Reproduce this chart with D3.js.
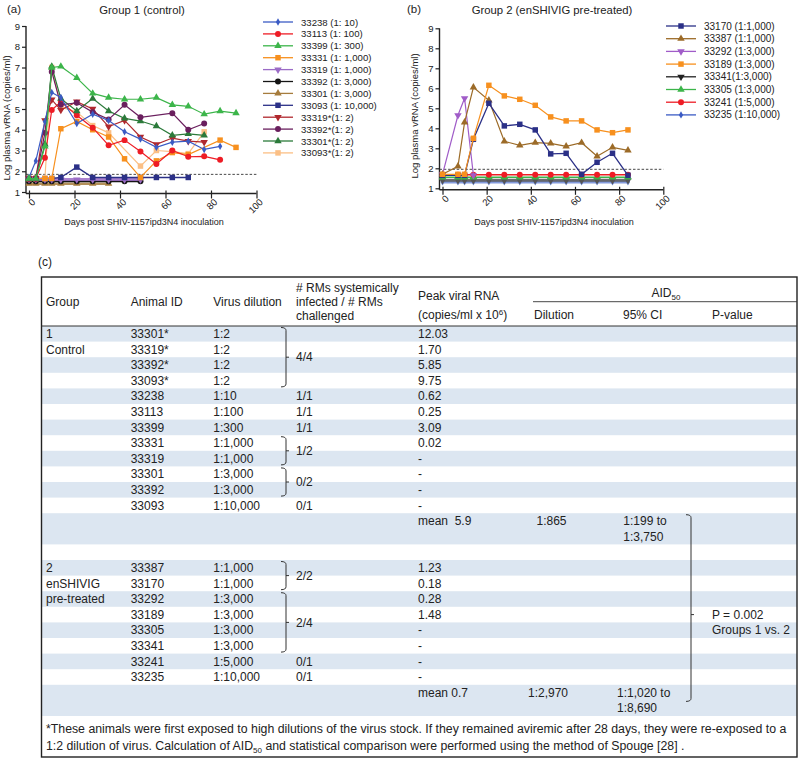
<!DOCTYPE html>
<html><head><meta charset="utf-8">
<script src="https://cdn.jsdelivr.net/npm/d3@7"></script>
<style>
body{margin:0;background:#fff}
svg{display:block}
text{font-family:"Liberation Sans",Arial,Helvetica,sans-serif;fill:#222}
</style>
</head><body>
<svg id="c" width="800" height="764"></svg>
<script>
// ---------------- DATA : panel (a) Group 1 (control) ----------------
const yTickValues = [1,2,3,4,5,6,7,8,9];
const xTickValues = [0,20,40,60,80,100];
const xAxisLabel = "Days post SHIV-1157ipd3N4 inoculation";
const yAxisLabel = "Log plasma vRNA (copies/ml)";
const limitA = 1.85, limitB = 1.95;

const labelsA = ["33238 (1: 10)","33113 (1: 100)","33399 (1: 300)","33331 (1: 1,000)","33319 (1: 1,000)","33392 (1: 3,000)","33301 (1: 3,000)","33093 (1: 10,000)","33319*(1: 2)","33392*(1: 2)","33301*(1: 2)","33093*(1: 2)"];

const dA_33238 = [0,3,7,10,14,21,28,35,42,49,56,63,70,77,84];
const vA_33238 = [1.7,2.5,4.4,5.8,5.55,4.3,4.75,4.45,3.9,3.55,3.15,3.4,3.45,3.05,3.2];
const dA_33113 = [0,3,7,10,14,21,28,35,42,49,56,63,70,77,84];
const vA_33113 = [1.65,1.65,2.65,4.95,5.35,4.7,4.1,3.25,3.5,2.95,2.35,3.0,2.7,2.72,2.55];
const dA_33399 = [0,3,7,10,14,21,28,35,42,49,56,63,70,77,84,91];
const vA_33399 = [1.65,1.65,3.2,7.0,7.05,6.5,5.75,5.55,5.47,5.47,5.55,5.2,5.13,4.75,4.9,4.8];
const dA_33331 = [0,3,7,10,14,21,28,35,42,49,56,63,70,84,91];
const vA_33331 = [1.65,1.65,1.65,1.65,4.05,4.4,4.0,3.65,2.6,1.7,2.5,2.9,2.8,3.5,3.15];
const dA_33319 = [0,3,7,10,14,21,28,35,42,49];
const vA_33319 = [1.6,1.6,1.6,1.6,1.6,1.6,1.6,1.6,1.6,1.6];
const dA_33392 = [0,3,7,10,14,21,28,35,42,49];
const vA_33392 = [1.52,1.52,1.52,1.52,1.52,1.52,1.52,1.52,1.52,1.52];
const dA_33301 = [0,3,7,10,14,21,28,35];
const vA_33301 = [1.4,1.4,1.4,1.4,1.4,1.4,1.4,1.4];
const dA_33093 = [0,3,7,10,14,21,28,35,42,49,56,63,70];
const vA_33093 = [1.65,1.65,1.65,1.65,1.7,2.2,1.7,1.7,1.7,1.7,1.7,1.7,1.7];
const dA_33319s = [0,3,7,10,14,21,28,35,42,49,56,63,70,77];
const vA_33319s = [1.65,1.65,4.45,5.45,4.95,5.35,5.0,4.15,4.45,3.65,3.3,3.6,3.45,3.4];
const dA_33392s = [0,3,7,10,14,21,28,35,42,49,63,70,77];
const vA_33392s = [1.65,1.65,3.85,6.8,5.2,5.3,4.85,4.5,5.2,4.6,4.8,4.0,4.3];
const dA_33301s = [0,3,7,10,14,21,28,35,42,49,56,63,70,77];
const vA_33301s = [1.65,1.65,3.3,7.05,5.5,4.9,5.5,4.9,4.55,4.42,4.18,3.73,3.8,3.73];
const dA_33093s = [0,3,7,10,14,21,28,35,49,56,63,70,77];
const vA_33093s = [1.65,1.65,1.65,7.0,5.1,4.85,4.2,3.85,2.25,3.0,2.95,2.85,3.9];

// ---------------- DATA : panel (b) Group 2 (enSHIVIG pre-treated) ----------------
const labelsB = ["33170 (1:1,000)","33387 (1:1,000)","33292 (1:3,000)","33189 (1:3,000)","33341(1:3,000)","33305 (1:3,000)","33241 (1:5,000)","33235 (1:10,000)"];
const dB = [0,7,10,14,21,28,35,42,49,56,63,70,77,84];
const vB_33170 = [1.65,1.65,1.65,3.45,5.25,4.12,4.2,3.92,2.72,2.75,1.7,2.3,2.75,1.65];
const vB_33387 = [1.7,2.1,4.3,6.05,5.4,3.35,3.15,3.28,3.25,3.1,3.28,2.6,3.05,2.9];
const dB_33292 = [0,7,10,14];
const vB_33292 = [1.7,4.65,5.5,1.65];
const vB_33189 = [1.7,1.7,1.7,3.5,6.15,5.62,5.45,5.15,4.57,4.37,4.37,3.92,3.78,3.92];
const vB_33341 = [1.4,1.4,1.4,1.4,1.4,1.4,1.4,1.4,1.4,1.4,1.4,1.4,1.4,1.4];
const vB_33305 = [1.55,1.55,1.55,1.55,1.55,1.55,1.55,1.55,1.55,1.55,1.55,1.55,1.55,1.55];
const vB_33241 = [1.68,1.68,1.68,1.68,1.68,1.68,1.68,1.68,1.68,1.68,1.68,1.68,1.68,1.68];
const vB_33235 = [1.32,1.32,1.32,1.32,1.32,1.32,1.32,1.32,1.32,1.32,1.32,1.32,1.32,1.32];

// ---------------- DATA : table (c) ----------------
const tblGroup   = ["1","Control","","","","","","","","","","","","","2","enSHIVIG","pre-treated","","","","","",""];
const tblAnimal  = ["33301*","33319*","33392*","33093*","33238","33113","33399","33331","33319","33301","33392","33093","","","33387","33170","33292","33189","33305","33341","33241","33235",""];
const tblVirus   = ["1:2","1:2","1:2","1:2","1:10","1:100","1:300","1:1,000","1:1,000","1:3,000","1:3,000","1:10,000","","","1:1,000","1:1,000","1:3,000","1:3,000","1:3,000","1:3,000","1:5,000","1:10,000",""];
const tblPeak    = ["12.03","1.70","5.85","9.75","0.62","0.25","3.09","0.02","-","-","-","-","mean  5.9","","1.23","0.18","0.28","1.48","-","-","-","-","mean 0.7"];
const tblLinesPerRow = [1,1,1,1,1,1,1,1,1,1,1,1,2,1,1,1,1,1,1,1,1,1,2];
// infected groups: [firstRow, lastRow, label]
const tblInfected = [[0,3,"4/4"],[4,4,"1/1"],[5,5,"1/1"],[6,6,"1/1"],[7,8,"1/2"],[9,10,"0/2"],[11,11,"0/1"],[14,15,"2/2"],[16,19,"2/4"],[20,20,"0/1"],[21,21,"0/1"]];
const tblAidRows = [12,22];
const tblAidDilution = ["1:865","1:2,970"];
const tblAidCI1 = ["1:199 to","1:1,020 to"];
const tblAidCI2 = ["1:3,750","1:8,690"];
const tblPText = ["P = 0.002","Groups 1 vs. 2"];
const footnote1 = "*These animals were first exposed to high dilutions of the virus stock. If they remained aviremic after 28 days, they were re-exposed to a";
const footnote2a = "1:2 dilution of virus. Calculation of AID";
const footnote2b = " and statistical comparison were performed using the method of Spouge [28] .";

// ---------------- DRAW ----------------
const svg = d3.select("#c");
svg.append("rect").attr("width",800).attr("height",764).attr("fill","#fff");

const triDown = { draw(ctx, size){ const h=Math.sqrt(size*4/Math.sqrt(3)); const r=h/Math.sqrt(3); ctx.moveTo(0, r); ctx.lineTo(h/2,-r/2); ctx.lineTo(-h/2,-r/2); ctx.closePath(); } };
const triUp = { draw(ctx, size){ const h=Math.sqrt(size*4/Math.sqrt(3)); const r=h/Math.sqrt(3); ctx.moveTo(0,-r); ctx.lineTo(h/2,r/2); ctx.lineTo(-h/2,r/2); ctx.closePath(); } };
const SYM = {circle:d3.symbolCircle, square:d3.symbolSquare, up:triUp, down:triDown, diamond:d3.symbolDiamond};
const SIZE = {circle:28, square:30, up:24, down:24, diamond:16};

const seriesA = [
  {d:dA_33301, v:vA_33301, c:"#a67c3d", s:"up", w:2.5},
  {d:dA_33392, v:vA_33392, c:"#151515", s:"circle", w:2},
  {d:dA_33319, v:vA_33319, c:"#9b6bc6", s:"down", w:3},
  {d:dA_33093, v:vA_33093, c:"#2b3087", s:"square", w:1.3},
  {d:dA_33093s, v:vA_33093s, c:"#fbbf85", s:"square", w:1.2},
  {d:dA_33331, v:vA_33331, c:"#f7901e", s:"square", w:1.2},
  {d:dA_33113, v:vA_33113, c:"#ee1c25", s:"circle", w:1.2},
  {d:dA_33319s, v:vA_33319s, c:"#b0282d", s:"down", w:1.2},
  {d:dA_33301s, v:vA_33301s, c:"#2b7a3a", s:"up", w:1.2},
  {d:dA_33392s, v:vA_33392s, c:"#6a1f5e", s:"circle", w:1.2},
  {d:dA_33238, v:vA_33238, c:"#3b5bc4", s:"diamond", w:1.2},
  {d:dA_33399, v:vA_33399, c:"#3cb54a", s:"up", w:1.2}
];
const legendA = [
  {c:"#3b5bc4", s:"diamond"},{c:"#ee1c25", s:"circle"},{c:"#3cb54a", s:"up"},{c:"#f7901e", s:"square"},
  {c:"#9b6bc6", s:"down"},{c:"#151515", s:"circle"},{c:"#a67c3d", s:"up"},{c:"#2b3087", s:"square"},
  {c:"#b0282d", s:"down"},{c:"#6a1f5e", s:"circle"},{c:"#2b7a3a", s:"up"},{c:"#fbbf85", s:"square"}
];
const seriesB = [
  {d:dB, v:vB_33235, c:"#6f8ad6", s:"diamond", w:3},
  {d:dB, v:vB_33341, c:"#555555", s:"down", w:3},
  {d:dB, v:vB_33305, c:"#3cb54a", s:"up", w:1.5},
  {d:dB, v:vB_33241, c:"#ee1c25", s:"circle", w:1.5},
  {d:dB_33292, v:vB_33292, c:"#a05cc8", s:"down", w:1.2},
  {d:dB, v:vB_33387, c:"#9c6b28", s:"up", w:1.2},
  {d:dB, v:vB_33170, c:"#2b3087", s:"square", w:1.3},
  {d:dB, v:vB_33189, c:"#f7901e", s:"square", w:1.2}
];
const legendB = [
  {c:"#2b3087", s:"square"},{c:"#9c6b28", s:"up"},{c:"#a05cc8", s:"down"},{c:"#f7901e", s:"square"},
  {c:"#222222", s:"down"},{c:"#3cb54a", s:"up"},{c:"#ee1c25", s:"circle"},{c:"#3b5bc4", s:"diamond"}
];

function drawPanel(opt){
  const g = svg.append("g");
  const x = d3.scaleLinear([0,100],opt.xr), y = d3.scaleLinear([1,9],opt.yr);
  const ax0 = x(0)-3, ay0 = y(1)+1.5;
  const ya = g.append("g").attr("transform",`translate(${ax0},0)`)
    .call(d3.axisLeft(y).tickValues(yTickValues).tickSize(4).tickSizeOuter(0).tickPadding(2).tickFormat(d3.format("d")));
  ya.select(".domain").remove();
  ya.selectAll("line").attr("stroke","#222").attr("stroke-width",1.2);
  ya.selectAll("text").attr("font-size","9.5px").attr("fill","#222");
  const xa = g.append("g").attr("transform",`translate(0,${ay0})`)
    .call(d3.axisBottom(x).tickValues(xTickValues).tickSize(5).tickSizeOuter(0).tickFormat(d3.format("d")));
  xa.select(".domain").remove();
  xa.selectAll("line").attr("stroke","#222").attr("stroke-width",1.2).attr("y1",-3);
  xa.selectAll("text").attr("font-size","9.5px").attr("fill","#222")
    .attr("text-anchor","end").attr("transform","rotate(-45)").attr("dx","-0.1em").attr("dy","0.45em").attr("y",7).attr("x",-1);
  g.append("line").attr("x1",ax0).attr("x2",ax0).attr("y1",y(9)).attr("y2",ay0).attr("stroke","#222").attr("stroke-width",1.4);
  g.append("line").attr("x1",ax0).attr("x2",x(100)).attr("y1",ay0).attr("y2",ay0).attr("stroke","#222").attr("stroke-width",1.4);
  g.append("line").attr("x1",ax0).attr("x2",x(100)).attr("y1",y(opt.limit)).attr("y2",y(opt.limit))
    .attr("stroke","#333").attr("stroke-width",0.9).attr("stroke-dasharray","2.5,1.8");
  const line = d3.line().x(d=>x(d[0])).y(d=>y(d[1]));
  opt.series.forEach(s=>{
    const pts = s.d.map((d,i)=>[d,s.v[i]]);
    g.append("path").attr("d",line(pts)).attr("fill","none").attr("stroke",s.c).attr("stroke-width",s.w).attr("stroke-opacity",s.w>2?0.85:1);
    g.selectAll(null).data(pts).join("path")
      .attr("d",d3.symbol(SYM[s.s],SIZE[s.s])())
      .attr("transform",d=>`translate(${x(d[0])},${y(d[1])})`)
      .attr("fill",s.c);
  });
  opt.legend.forEach((l,i)=>{
    const ly = opt.lg.y0 + i*opt.lg.dy;
    g.append("line").attr("x1",opt.lg.x0).attr("x2",opt.lg.x0+30).attr("y1",ly).attr("y2",ly).attr("stroke",l.c).attr("stroke-width",1.3);
    g.append("path").attr("d",d3.symbol(SYM[l.s],SIZE[l.s])()).attr("transform",`translate(${opt.lg.x0+15},${ly})`).attr("fill",l.c);
    g.append("text").attr("x",opt.lg.x0+38).attr("y",ly+3.5).attr("font-size",opt.lg.fs).text(opt.labels[i]);
  });
  g.append("text").attr("x",opt.tagX).attr("y",13).attr("font-size","11.5px").text(opt.tag);
  g.append("text").attr("x",opt.titleX).attr("y",14).attr("text-anchor","middle").attr("font-size","11.3px").text(opt.title);
  g.append("text").attr("transform",`translate(${opt.ylx},${opt.yly}) rotate(-90)`).attr("text-anchor","middle").attr("font-size","9.5px").text(yAxisLabel);
  g.append("text").attr("x",opt.xlx).attr("y",225).attr("text-anchor","middle").attr("font-size","9px").text(xAxisLabel);
}

drawPanel({xr:[29,256.5], yr:[192,26], limit:limitA, series:seriesA, legend:legendA, labels:labelsA,
  lg:{x0:263,y0:22,dy:11.9,fs:"9.6px"}, tag:"(a)", tagX:7, title:"Group 1 (control)", titleX:142,
  ylx:10, yly:118, xlx:144});
drawPanel({xr:[442.5,663.3], yr:[188.3,28.3], limit:limitB, series:seriesB, legend:legendB, labels:labelsB,
  lg:{x0:666,y0:26,dy:12.7,fs:"10px"}, tag:"(b)", tagX:407, title:"Group 2 (enSHIVIG pre-treated)", titleX:552,
  ylx:418, yly:116, xlx:554});

// ---------------- TABLE ----------------
const T = {left:41.5, right:797, top:277, headBot:326, rowH:15.6, bottom:757};
const tg = svg.append("g");
tg.append("text").attr("x",38).attr("y",266).attr("font-size","12px").text("(c)");
const rowTops = [];
let yy = T.headBot;
tblLinesPerRow.forEach(n=>{ rowTops.push(yy); yy += n*T.rowH; });
const rowBot = i => rowTops[i] + tblLinesPerRow[i]*T.rowH;
tblLinesPerRow.forEach((n,i)=>{
  if(i%2===0) tg.append("rect").attr("x",T.left).attr("y",rowTops[i]).attr("width",T.right-T.left).attr("height",n*T.rowH).attr("fill","#dce6f1");
});
tg.append("rect").attr("x",T.left).attr("y",T.top).attr("width",T.right-T.left).attr("height",T.bottom-T.top).attr("fill","none").attr("stroke","#222").attr("stroke-width",1.4);
tg.append("line").attr("x1",T.left).attr("x2",T.right).attr("y1",T.headBot).attr("y2",T.headBot).attr("stroke","#333").attr("stroke-width",1);
tg.append("line").attr("x1",533).attr("x2",T.right).attr("y1",301.7).attr("y2",301.7).attr("stroke","#333").attr("stroke-width",0.9);
const FS = "12px";
function t(x,y,s,anchor){ return tg.append("text").attr("x",x).attr("y",y).attr("font-size",FS).attr("text-anchor",anchor||"start").text(s); }
t(46,306,"Group"); t(130.7,306,"Animal ID"); t(213.3,306,"Virus dilution");
t(296,292,"# RMs systemically"); t(296,306,"infected / # RMs"); t(296,320,"challenged");
t(418,300,"Peak viral RNA");
const pk = t(418,319,"(copies/ml x 10"); pk.append("tspan").attr("dy",-4).attr("font-size","8px").text("6"); pk.append("tspan").attr("dy",4).text(")");
const aid = t(666,297,"AID","middle"); aid.append("tspan").attr("dy",3).attr("font-size","8px").text("50");
t(534,319,"Dilution"); t(623,319,"95% CI"); t(712,319,"P-value");
const colX = {group:46, animal:130.7, virus:213.3, inf:296, peak:418};
tblLinesPerRow.forEach((n,i)=>{
  const by = rowTops[i] + T.rowH/2 + 4.2;
  if(tblGroup[i]) t(colX.group,by,tblGroup[i]);
  if(tblAnimal[i]) t(colX.animal,by,tblAnimal[i]);
  if(tblVirus[i]) t(colX.virus,by,tblVirus[i]);
  if(tblPeak[i]) t(colX.peak,by,tblPeak[i]).attr("xml:space","preserve");
});
tblInfected.forEach(([a,b,lab])=>{
  const top = rowTops[a], bot = rowBot(b);
  if(a===b){ t(colX.inf, top+T.rowH/2+4.2, lab); return; }
  const bx = 286, y1 = top+1.5, y2 = bot-1.5, mid=(y1+y2)/2;
  tg.append("path").attr("d",`M${bx-5},${y1} Q${bx},${y1} ${bx},${y1+3} L${bx},${y2-3} Q${bx},${y2} ${bx-5},${y2} M${bx},${mid} L${bx+3},${mid}`)
    .attr("fill","none").attr("stroke","#333").attr("stroke-width",1);
  t(colX.inf, mid+4.2, lab);
});
const aidX = [[536.5,623.3],[528,617]];
tblAidRows.forEach((r,k)=>{
  const y1 = rowTops[r]+T.rowH/2+4.2;
  t(aidX[k][0],y1,tblAidDilution[k]); t(aidX[k][1],y1,tblAidCI1[k]); t(aidX[k][1],y1+T.rowH,tblAidCI2[k]);
});
{
  const bx=691, y1=rowTops[12]+1.5, y2=rowTops[22]+T.rowH+1, mid=rowTops[17]+T.rowH/2;
  tg.append("path").attr("d",`M${bx-5},${y1} Q${bx},${y1} ${bx},${y1+3} L${bx},${y2-3} Q${bx},${y2} ${bx-5},${y2} M${bx},${mid} L${bx+3},${mid}`)
    .attr("fill","none").attr("stroke","#333").attr("stroke-width",1);
  t(712, mid+4.2, tblPText[0]);
  t(712, mid+T.rowH+4.2, tblPText[1]);
}
tg.append("text").attr("x",46).attr("y",733).attr("font-size","12.3px").text(footnote1);
const f2 = tg.append("text").attr("x",46).attr("y",750).attr("font-size","12.3px").text(footnote2a);
f2.append("tspan").attr("dy",3).attr("font-size","8px").text("50");
f2.append("tspan").attr("dy",-3).text(footnote2b);
</script>
</body></html>
